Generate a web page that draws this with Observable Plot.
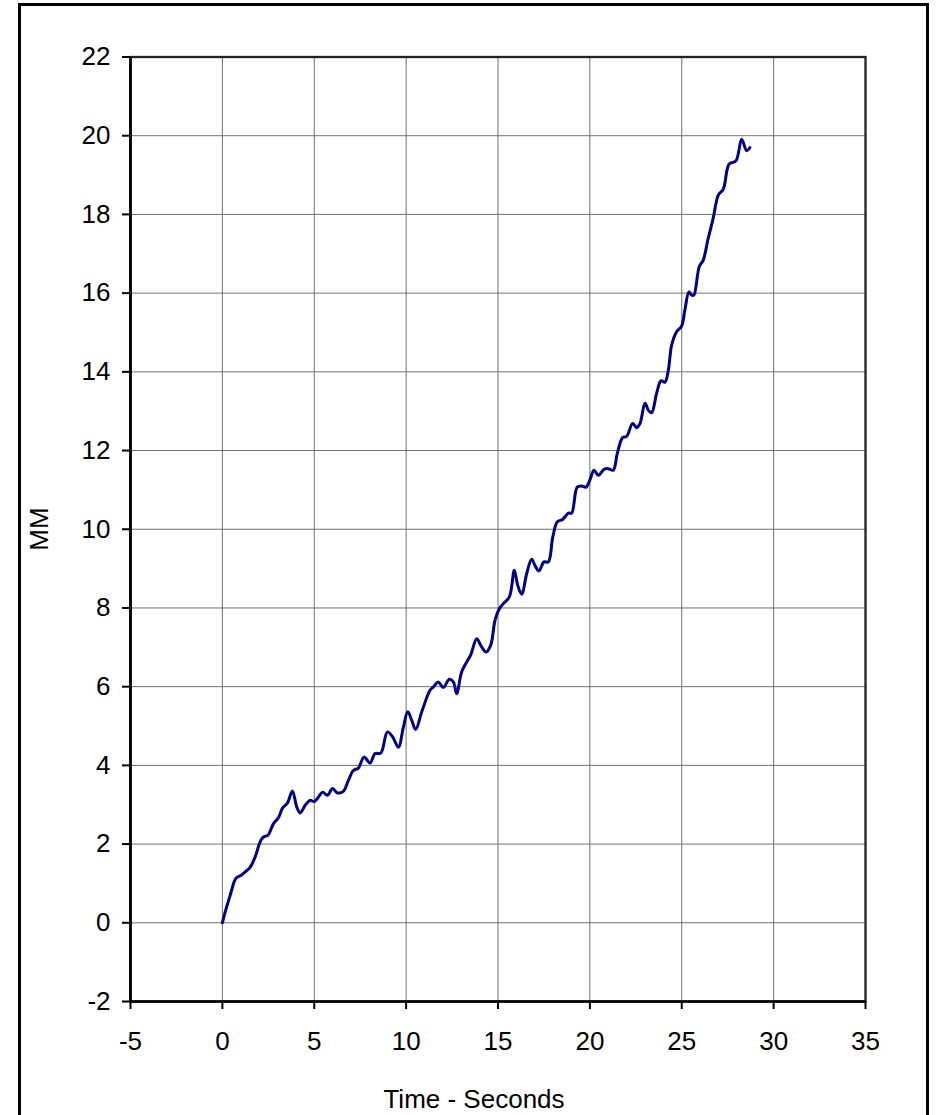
<!DOCTYPE html>
<html>
<head>
<meta charset="utf-8">
<script src="https://cdn.jsdelivr.net/npm/d3@7"></script>
<script src="https://cdn.jsdelivr.net/npm/@observablehq/plot@0.6"></script>
<style>
  html, body { margin: 0; padding: 0; background: #fff; }
  #wrap { position: relative; width: 936px; height: 1115px; overflow: hidden; }
  #border { position: absolute; left: 18px; top: 3px; width: 905px; height: 1200px; border: 3px solid #000; box-sizing: content-box; }
  #chart { position: absolute; left: 0; top: 0; }
</style>
</head>
<body>
<div id="wrap"><div id="border"></div><div id="chart"></div></div>
<script>
const time = [
  0, 0.15, 0.42, 0.74, 1.0, 1.23, 1.5, 1.78, 2.05, 2.23,
  2.47, 2.78, 3.05, 3.28, 3.54, 3.81, 4.05, 4.23, 4.50, 4.77,
  5.0, 5.22, 5.46, 5.71, 6.0, 6.26, 6.58, 6.86, 7.13, 7.40,
  7.71, 8.04, 8.31, 8.62, 8.98, 9.27, 9.58, 9.85, 10.09, 10.31,
  10.52, 10.85, 11.30, 11.48, 11.75, 12.02, 12.35, 12.57, 12.75, 13.02,
  13.30, 13.51, 13.84, 14.06, 14.35, 14.60, 14.84, 15.07, 15.29, 15.62,
  15.89, 16.07, 16.29, 16.56, 16.83, 17.01, 17.23, 17.50, 17.74, 17.98,
  18.23, 18.52, 18.83, 19.01, 19.31, 19.55, 19.79, 20.01, 20.22, 20.46,
  20.77, 21.00, 21.27, 21.49, 21.78, 22.00, 22.33, 22.55, 22.73, 23.00,
  23.18, 23.36, 23.63, 23.87, 24.09, 24.27, 24.45, 24.72, 24.99, 25.17,
  25.39, 25.54, 25.66, 25.95, 26.17, 26.44, 26.71, 26.99, 27.26, 27.58,
  27.95, 28.26, 28.53, 28.71
];
const mm = [
  0, 0.27, 0.69, 1.13, 1.2, 1.29, 1.40, 1.67, 2.05, 2.18,
  2.22, 2.52, 2.67, 2.92, 3.04, 3.35, 2.94, 2.79, 2.98, 3.11,
  3.08, 3.19, 3.32, 3.24, 3.41, 3.30, 3.34, 3.62, 3.87, 3.93,
  4.21, 4.06, 4.30, 4.31, 4.85, 4.72, 4.46, 4.97, 5.36, 5.14,
  4.91, 5.36, 5.91, 5.99, 6.12, 5.98, 6.19, 6.12, 5.82, 6.37,
  6.63, 6.80, 7.22, 7.05, 6.88, 7.05, 7.69, 7.98, 8.11, 8.28,
  8.96, 8.58, 8.35, 8.87, 9.24, 9.08, 8.94, 9.17, 9.17, 9.80,
  10.19, 10.25, 10.41, 10.41, 11.07, 11.10, 11.07, 11.26, 11.50, 11.37,
  11.52, 11.54, 11.50, 11.92, 12.33, 12.36, 12.69, 12.58, 12.69, 13.20,
  13.03, 12.96, 13.45, 13.77, 13.74, 14.04, 14.68, 15.02, 15.16, 15.57,
  16.03, 15.95, 15.95, 16.67, 16.84, 17.39, 17.90, 18.49, 18.64, 19.28,
  19.36, 19.91, 19.62, 19.70
];
const xTicks = [-5, 0, 5, 10, 15, 20, 25, 30, 35];
const yTicks = [-2, 0, 2, 4, 6, 8, 10, 12, 14, 16, 18, 20, 22];
const xTitle = ["Time - Seconds"];
const yTitle = ["MM"];

const data = time.map((t, i) => ({t, v: mm[i]}));

const chart = Plot.plot({
  width: 936,
  height: 1115,
  marginLeft: 130,
  marginRight: 71,
  marginTop: 56.5,
  marginBottom: 114,
  style: {fontFamily: "'Liberation Sans', Arial, sans-serif", fontSize: "26px", color: "#000", background: "transparent"},
  x: {domain: [-5, 35], ticks: xTicks},
  y: {domain: [-2, 22], ticks: yTicks},
  marks: [
    Plot.gridX(xTicks, {stroke: "#707070", strokeOpacity: 1, strokeWidth: 1}),
    Plot.gridY(yTicks, {stroke: "#707070", strokeOpacity: 1, strokeWidth: 1}),
    Plot.frame({stroke: "#222", strokeWidth: 2.3}),
    Plot.ruleX([-5], {stroke: "#000", strokeWidth: 2.7}),
    Plot.ruleY([-2], {stroke: "#000", strokeWidth: 2.7}),
    Plot.axisX(xTicks, {tickSize: 8, tickPadding: 22, strokeWidth: 2, stroke: "#000", tickFormat: d => String(d), label: null, fontSize: 26}),
    Plot.axisY(yTicks, {tickSize: 8, tickPadding: 12, strokeWidth: 2, stroke: "#000", tickFormat: d => String(d), label: null, fontSize: 26}),
    Plot.line(data, {x: "t", y: "v", stroke: "#000080", strokeWidth: 3, curve: "catmull-rom"}),
    Plot.text(xTitle, {frameAnchor: "bottom", dx: -24, dy: 98, lineAnchor: "middle", fontSize: 26, fill: "#000"}),
    Plot.text(yTitle, {frameAnchor: "left", dx: -91, dy: 21.5, rotate: -90, lineAnchor: "middle", fontSize: 26, fill: "#000"})
  ]
});
document.getElementById("chart").appendChild(chart);
</script>
</body>
</html>
